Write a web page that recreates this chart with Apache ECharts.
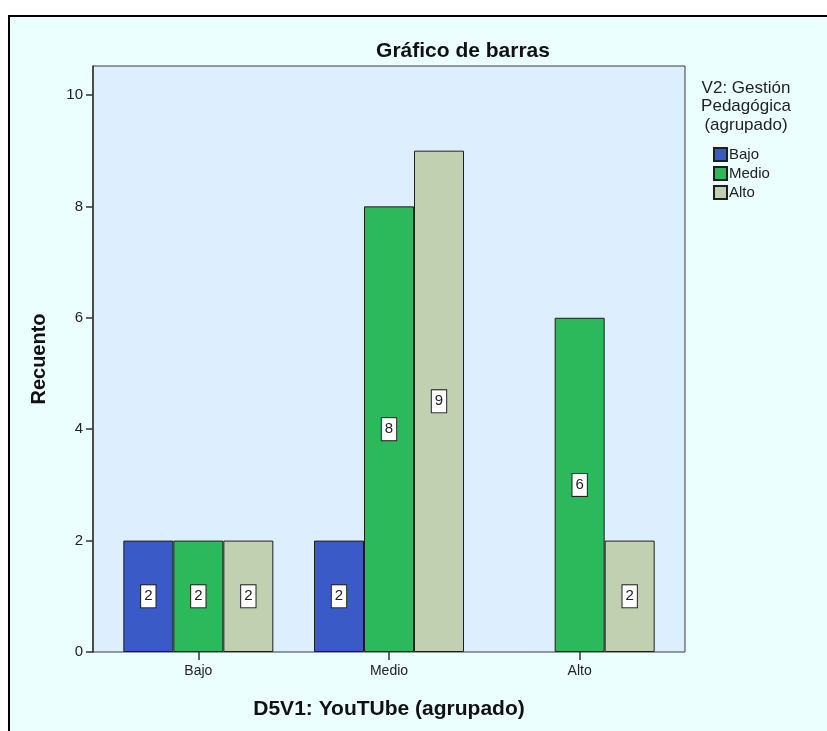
<!DOCTYPE html>
<html>
<head>
<meta charset="utf-8">
<script src="https://cdn.jsdelivr.net/npm/echarts@6/dist/echarts.min.js"></script>
<style>
html,body{margin:0;padding:0;background:#fff;}
#chart{width:827px;height:731px;}
</style>
</head>
<body>
<div id="chart"></div>
<script>
const categories = ['Bajo', 'Medio', 'Alto'];
const seriesNames = ['Bajo', 'Medio', 'Alto'];
const valuesBajo = [2, 2, null];
const valuesMedio = [2, 8, 6];
const valuesAlto = [2, 9, 2];
const yTicks = [0, 2, 4, 6, 8, 10];
const colors = ['#3A5BC7', '#2BB95B', '#C2D0B2'];

const FONT = '"Liberation Sans", Arial, sans-serif';
const chart = echarts.init(document.getElementById('chart'), null, {renderer: 'canvas'});

const allValues = [valuesBajo, valuesMedio, valuesAlto];
const series = seriesNames.map((name, i) => ({
  name: name,
  type: 'bar',
  xAxisIndex: 0,
  yAxisIndex: 0,
  data: allValues[i],
  barWidth: 50,
  barGap: '0%',
  itemStyle: {color: colors[i], borderColor: '#1e1e1e', borderWidth: 1},
  emphasis: {disabled: true},
  label: {
    show: true,
    position: 'inside',
    backgroundColor: '#ffffff',
    borderColor: '#222',
    borderWidth: 1,
    padding: [4, 3, 3, 3],
    fontSize: 15,
    fontFamily: FONT,
    color: '#222'
  },
  z: 3
}));

const YMAX = 10.52;

chart.setOption({
  animation: false,
  textStyle: {fontFamily: FONT},
  graphic: [{
    type: 'rect',
    left: 8, top: 15, z: -10,
    shape: {width: 830, height: 730},
    style: {fill: '#EBFFFF', stroke: '#000', lineWidth: 2}
  }],
  title: [
    {
      text: 'Gráfico de barras',
      left: 458, top: 36, textAlign: 'center',
      textStyle: {fontSize: 21, fontWeight: 'bold', color: '#111', fontFamily: FONT}
    },
    {
      text: 'V2: Gestión\nPedagógica\n(agrupado)',
      left: 741, top: 74, textAlign: 'center',
      textStyle: {fontSize: 17, fontWeight: 'normal', color: '#222', lineHeight: 18.5, fontFamily: FONT}
    }
  ],
  legend: {
    orient: 'vertical',
    left: 708, top: 142,
    itemWidth: 13, itemHeight: 13, itemGap: 4,
    icon: 'rect',
    textStyle: {fontSize: 15, color: '#222', fontFamily: FONT, padding: [0, 0, 0, -3]},
    data: seriesNames
  },
  grid: [
    {left: 103, top: 66, width: 572, height: 586, containLabel: false},
    {left: 93, top: 66, width: 592, height: 586, show: true, backgroundColor: '#DDEFFE', borderColor: '#3a3a3a', borderWidth: 1, z: 0}
  ],
  xAxis: [
    {
      gridIndex: 0, type: 'category', data: categories,
      axisLine: {show: false},
      axisTick: {show: true, alignWithLabel: true, length: 8, lineStyle: {color: '#333', width: 1.5}},
      axisLabel: {fontSize: 14, color: '#222', margin: 12, fontFamily: FONT},
      name: 'D5V1: YouTUbe (agrupado)',
      nameLocation: 'middle', nameGap: 47,
      nameTextStyle: {fontSize: 21, fontWeight: 'bold', color: '#111', fontFamily: FONT}
    },
    {gridIndex: 1, type: 'value', show: false, min: 0, max: 1}
  ],
  yAxis: [
    {gridIndex: 0, type: 'value', min: 0, max: YMAX, show: false, splitLine: {show: false}},
    {
      gridIndex: 1, type: 'value', min: 0, max: YMAX,
      axisLine: {show: true, lineStyle: {color: '#333', width: 1.5}},
      axisTick: {show: true, length: 7, customValues: yTicks, lineStyle: {color: '#333', width: 1.5}},
      axisLabel: {show: true, customValues: yTicks, fontSize: 15, color: '#222', margin: 10, fontFamily: FONT},
      splitLine: {show: false},
      name: 'Recuento', nameLocation: 'middle', nameGap: 44, nameRotate: 90,
      nameTextStyle: {fontSize: 20, fontWeight: 'bold', color: '#111', fontFamily: FONT}
    }
  ],
  series: series
});
</script>
</body>
</html>
